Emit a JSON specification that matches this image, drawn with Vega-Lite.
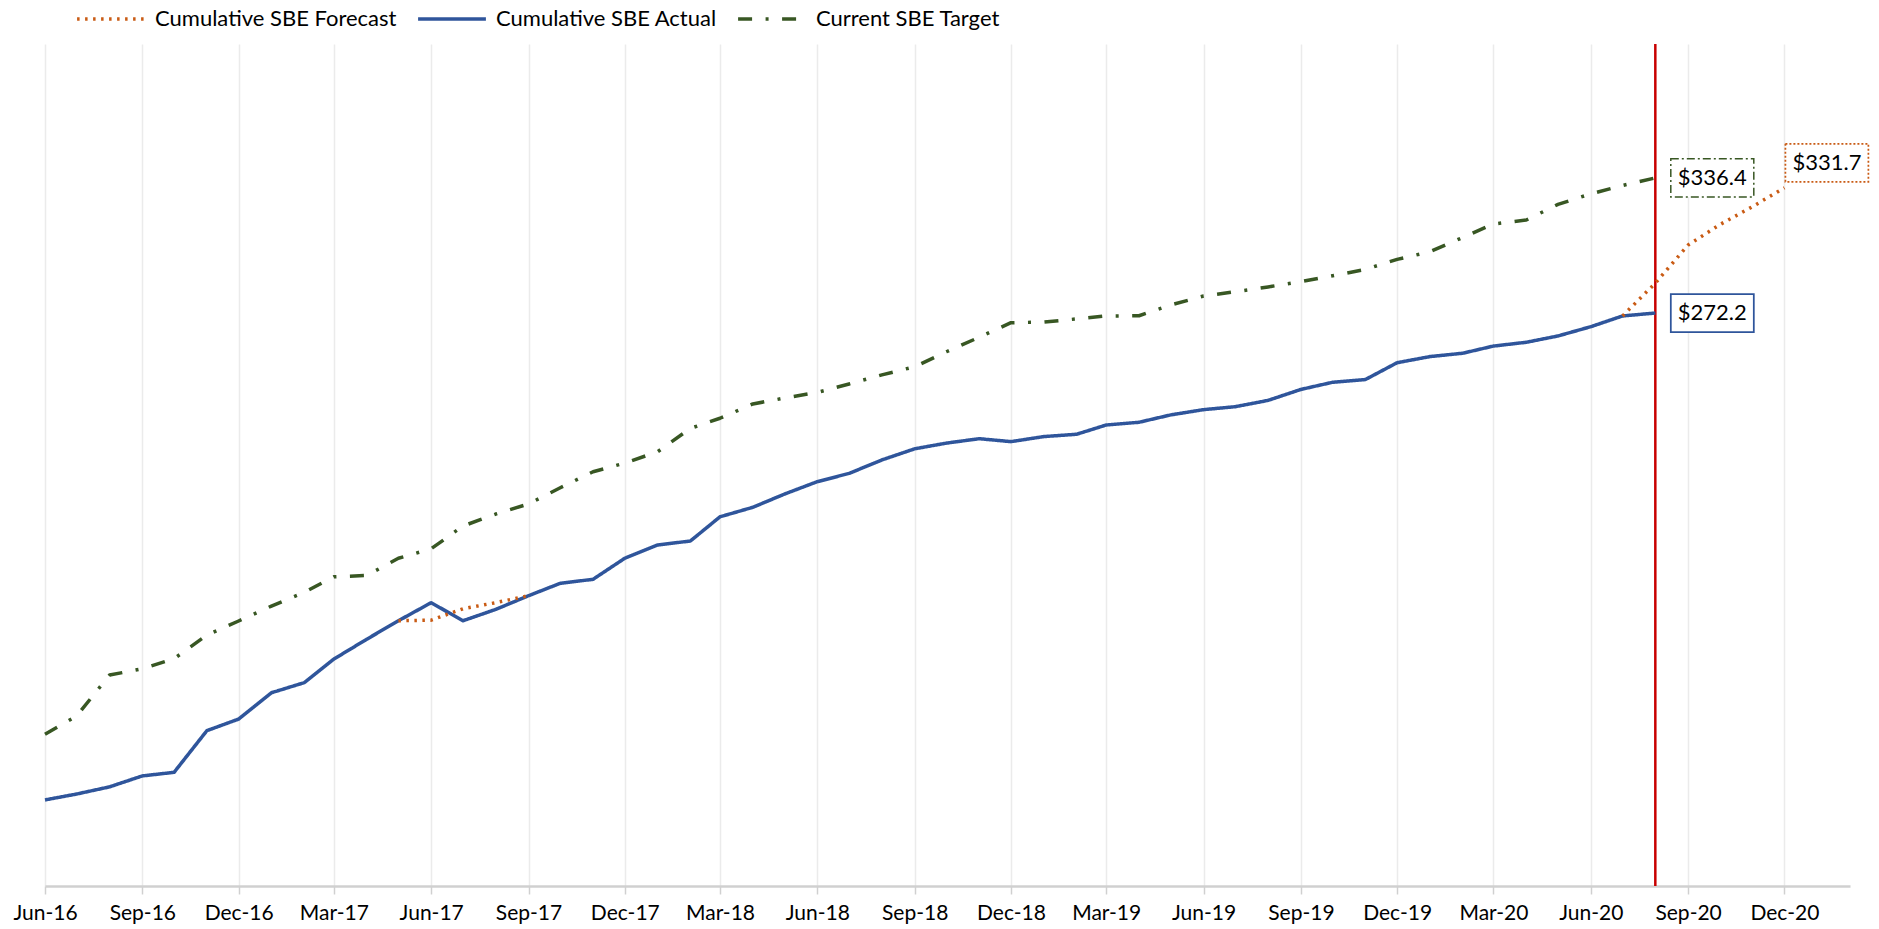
{
"$schema": "https://vega.github.io/schema/vega-lite/v6.json",
"width": 1805, "height": 842,
"autosize": {"type": "none"},
"padding": {"left": 45, "top": 44, "right": 29, "bottom": 43},
"background": "white",
"config": {"view": {"stroke": null}, "font": "Lato"},
"datasets": {
"now": [{"d": "2020-08-01"}],
"labels": [
{"d": "2020-08-01", "v": 336.4, "t": "$336.4", "k": "target"},
{"d": "2020-08-01", "v": 272.2, "t": "$272.2", "k": "actual"},
{"d": "2020-12-01", "v": 331.7, "t": "$331.7", "k": "forecast"}
],
"lines": [
{"d":"2016-06-01","s":"Cumulative SBE Actual","g":"a","v":40.9},
{"d":"2016-07-01","s":"Cumulative SBE Actual","g":"a","v":43.7},
{"d":"2016-08-01","s":"Cumulative SBE Actual","g":"a","v":47.1},
{"d":"2016-09-01","s":"Cumulative SBE Actual","g":"a","v":52.3},
{"d":"2016-10-01","s":"Cumulative SBE Actual","g":"a","v":54.0},
{"d":"2016-11-01","s":"Cumulative SBE Actual","g":"a","v":73.8},
{"d":"2016-12-01","s":"Cumulative SBE Actual","g":"a","v":79.3},
{"d":"2017-01-01","s":"Cumulative SBE Actual","g":"a","v":91.8},
{"d":"2017-02-01","s":"Cumulative SBE Actual","g":"a","v":96.6},
{"d":"2017-03-01","s":"Cumulative SBE Actual","g":"a","v":107.8},
{"d":"2017-04-01","s":"Cumulative SBE Actual","g":"a","v":117.2},
{"d":"2017-05-01","s":"Cumulative SBE Actual","g":"a","v":126.0},
{"d":"2017-06-01","s":"Cumulative SBE Actual","g":"a","v":134.6},
{"d":"2017-07-01","s":"Cumulative SBE Actual","g":"a","v":126.0},
{"d":"2017-08-01","s":"Cumulative SBE Actual","g":"a","v":131.4},
{"d":"2017-09-01","s":"Cumulative SBE Actual","g":"a","v":137.9},
{"d":"2017-10-01","s":"Cumulative SBE Actual","g":"a","v":143.8},
{"d":"2017-11-01","s":"Cumulative SBE Actual","g":"a","v":145.7},
{"d":"2017-12-01","s":"Cumulative SBE Actual","g":"a","v":155.7},
{"d":"2018-01-01","s":"Cumulative SBE Actual","g":"a","v":162.0},
{"d":"2018-02-01","s":"Cumulative SBE Actual","g":"a","v":163.9},
{"d":"2018-03-01","s":"Cumulative SBE Actual","g":"a","v":175.4},
{"d":"2018-04-01","s":"Cumulative SBE Actual","g":"a","v":179.9},
{"d":"2018-05-01","s":"Cumulative SBE Actual","g":"a","v":186.2},
{"d":"2018-06-01","s":"Cumulative SBE Actual","g":"a","v":192.1},
{"d":"2018-07-01","s":"Cumulative SBE Actual","g":"a","v":196.0},
{"d":"2018-08-01","s":"Cumulative SBE Actual","g":"a","v":202.4},
{"d":"2018-09-01","s":"Cumulative SBE Actual","g":"a","v":207.7},
{"d":"2018-10-01","s":"Cumulative SBE Actual","g":"a","v":210.4},
{"d":"2018-11-01","s":"Cumulative SBE Actual","g":"a","v":212.5},
{"d":"2018-12-01","s":"Cumulative SBE Actual","g":"a","v":211.1},
{"d":"2019-01-01","s":"Cumulative SBE Actual","g":"a","v":213.5},
{"d":"2019-02-01","s":"Cumulative SBE Actual","g":"a","v":214.6},
{"d":"2019-03-01","s":"Cumulative SBE Actual","g":"a","v":219.0},
{"d":"2019-04-01","s":"Cumulative SBE Actual","g":"a","v":220.3},
{"d":"2019-05-01","s":"Cumulative SBE Actual","g":"a","v":223.8},
{"d":"2019-06-01","s":"Cumulative SBE Actual","g":"a","v":226.3},
{"d":"2019-07-01","s":"Cumulative SBE Actual","g":"a","v":227.7},
{"d":"2019-08-01","s":"Cumulative SBE Actual","g":"a","v":230.7},
{"d":"2019-09-01","s":"Cumulative SBE Actual","g":"a","v":235.9},
{"d":"2019-10-01","s":"Cumulative SBE Actual","g":"a","v":239.3},
{"d":"2019-11-01","s":"Cumulative SBE Actual","g":"a","v":240.6},
{"d":"2019-12-01","s":"Cumulative SBE Actual","g":"a","v":248.6},
{"d":"2020-01-01","s":"Cumulative SBE Actual","g":"a","v":251.5},
{"d":"2020-02-01","s":"Cumulative SBE Actual","g":"a","v":253.1},
{"d":"2020-03-01","s":"Cumulative SBE Actual","g":"a","v":256.5},
{"d":"2020-04-01","s":"Cumulative SBE Actual","g":"a","v":258.3},
{"d":"2020-05-01","s":"Cumulative SBE Actual","g":"a","v":261.3},
{"d":"2020-06-01","s":"Cumulative SBE Actual","g":"a","v":265.7},
{"d":"2020-07-01","s":"Cumulative SBE Actual","g":"a","v":270.8},
{"d":"2020-08-01","s":"Cumulative SBE Actual","g":"a","v":272.2},
{"d":"2016-06-01","s":"Current SBE Target","g":"t","v":72.1},
{"d":"2016-07-01","s":"Current SBE Target","g":"t","v":80.8},
{"d":"2016-08-01","s":"Current SBE Target","g":"t","v":100.2},
{"d":"2016-09-01","s":"Current SBE Target","g":"t","v":103.2},
{"d":"2016-10-01","s":"Current SBE Target","g":"t","v":108.0},
{"d":"2016-11-01","s":"Current SBE Target","g":"t","v":119.2},
{"d":"2016-12-01","s":"Current SBE Target","g":"t","v":125.9},
{"d":"2017-01-01","s":"Current SBE Target","g":"t","v":133.0},
{"d":"2017-02-01","s":"Current SBE Target","g":"t","v":139.5},
{"d":"2017-03-01","s":"Current SBE Target","g":"t","v":146.9},
{"d":"2017-04-01","s":"Current SBE Target","g":"t","v":147.5},
{"d":"2017-05-01","s":"Current SBE Target","g":"t","v":155.7},
{"d":"2017-06-01","s":"Current SBE Target","g":"t","v":160.2},
{"d":"2017-07-01","s":"Current SBE Target","g":"t","v":171.0},
{"d":"2017-08-01","s":"Current SBE Target","g":"t","v":176.7},
{"d":"2017-09-01","s":"Current SBE Target","g":"t","v":181.5},
{"d":"2017-10-01","s":"Current SBE Target","g":"t","v":189.2},
{"d":"2017-11-01","s":"Current SBE Target","g":"t","v":196.8},
{"d":"2017-12-01","s":"Current SBE Target","g":"t","v":200.9},
{"d":"2018-01-01","s":"Current SBE Target","g":"t","v":206.3},
{"d":"2018-02-01","s":"Current SBE Target","g":"t","v":217.4},
{"d":"2018-03-01","s":"Current SBE Target","g":"t","v":222.2},
{"d":"2018-04-01","s":"Current SBE Target","g":"t","v":229.0},
{"d":"2018-05-01","s":"Current SBE Target","g":"t","v":231.8},
{"d":"2018-06-01","s":"Current SBE Target","g":"t","v":234.5},
{"d":"2018-07-01","s":"Current SBE Target","g":"t","v":238.5},
{"d":"2018-08-01","s":"Current SBE Target","g":"t","v":242.8},
{"d":"2018-09-01","s":"Current SBE Target","g":"t","v":246.7},
{"d":"2018-10-01","s":"Current SBE Target","g":"t","v":253.8},
{"d":"2018-11-01","s":"Current SBE Target","g":"t","v":260.7},
{"d":"2018-12-01","s":"Current SBE Target","g":"t","v":267.6},
{"d":"2019-01-01","s":"Current SBE Target","g":"t","v":267.9},
{"d":"2019-02-01","s":"Current SBE Target","g":"t","v":269.4},
{"d":"2019-03-01","s":"Current SBE Target","g":"t","v":270.8},
{"d":"2019-04-01","s":"Current SBE Target","g":"t","v":270.9},
{"d":"2019-05-01","s":"Current SBE Target","g":"t","v":276.0},
{"d":"2019-06-01","s":"Current SBE Target","g":"t","v":280.3},
{"d":"2019-07-01","s":"Current SBE Target","g":"t","v":282.3},
{"d":"2019-08-01","s":"Current SBE Target","g":"t","v":284.6},
{"d":"2019-09-01","s":"Current SBE Target","g":"t","v":287.1},
{"d":"2019-10-01","s":"Current SBE Target","g":"t","v":289.9},
{"d":"2019-11-01","s":"Current SBE Target","g":"t","v":292.9},
{"d":"2019-12-01","s":"Current SBE Target","g":"t","v":297.7},
{"d":"2020-01-01","s":"Current SBE Target","g":"t","v":301.3},
{"d":"2020-02-01","s":"Current SBE Target","g":"t","v":308.1},
{"d":"2020-03-01","s":"Current SBE Target","g":"t","v":314.5},
{"d":"2020-04-01","s":"Current SBE Target","g":"t","v":316.4},
{"d":"2020-05-01","s":"Current SBE Target","g":"t","v":323.8},
{"d":"2020-06-01","s":"Current SBE Target","g":"t","v":328.8},
{"d":"2020-07-01","s":"Current SBE Target","g":"t","v":332.8},
{"d":"2020-08-01","s":"Current SBE Target","g":"t","v":336.4},
{"d":"2017-05-01","s":"Cumulative SBE Forecast","g":"f1","v":126.0},
{"d":"2017-06-01","s":"Cumulative SBE Forecast","g":"f1","v":126.3},
{"d":"2017-07-01","s":"Cumulative SBE Forecast","g":"f1","v":131.7},
{"d":"2017-08-01","s":"Cumulative SBE Forecast","g":"f1","v":134.6},
{"d":"2017-09-01","s":"Cumulative SBE Forecast","g":"f1","v":137.9},
{"d":"2020-07-01","s":"Cumulative SBE Forecast","g":"f2","v":270.8},
{"d":"2020-08-01","s":"Cumulative SBE Forecast","g":"f2","v":286.4},
{"d":"2020-09-01","s":"Cumulative SBE Forecast","g":"f2","v":304.5},
{"d":"2020-10-01","s":"Cumulative SBE Forecast","g":"f2","v":314.2},
{"d":"2020-11-01","s":"Cumulative SBE Forecast","g":"f2","v":322.8},
{"d":"2020-12-01","s":"Cumulative SBE Forecast","g":"f2","v":331.7}
]
},
"layer": [
{"data": {"name": "now"},
 "mark": {"type": "rule", "color": "#C80000", "strokeWidth": 2.5},
 "encoding": {"x": {"field": "d", "type": "temporal"}}},
{"data": {"name": "lines"},
 "mark": {"type": "line", "strokeWidth": 3.5, "strokeJoin": "round"},
 "encoding": {
  "x": {"field": "d", "type": "temporal",
   "scale": {"type": "utc", "domain": [{"year": 2016, "month": 6, "date": 1, "utc": true}, {"year": 2021, "month": 2, "date": 1, "utc": true}]},
   "axis": {"title": null, "format": "%b-%y", "labelFlush": false, "labelOverlap": false,
    "values": [
     {"year": 2016, "month": 6, "date": 1, "utc": true}, {"year": 2016, "month": 9, "date": 1, "utc": true}, {"year": 2016, "month": 12, "date": 1, "utc": true},
     {"year": 2017, "month": 3, "date": 1, "utc": true}, {"year": 2017, "month": 6, "date": 1, "utc": true}, {"year": 2017, "month": 9, "date": 1, "utc": true}, {"year": 2017, "month": 12, "date": 1, "utc": true},
     {"year": 2018, "month": 3, "date": 1, "utc": true}, {"year": 2018, "month": 6, "date": 1, "utc": true}, {"year": 2018, "month": 9, "date": 1, "utc": true}, {"year": 2018, "month": 12, "date": 1, "utc": true},
     {"year": 2019, "month": 3, "date": 1, "utc": true}, {"year": 2019, "month": 6, "date": 1, "utc": true}, {"year": 2019, "month": 9, "date": 1, "utc": true}, {"year": 2019, "month": 12, "date": 1, "utc": true},
     {"year": 2020, "month": 3, "date": 1, "utc": true}, {"year": 2020, "month": 6, "date": 1, "utc": true}, {"year": 2020, "month": 9, "date": 1, "utc": true}, {"year": 2020, "month": 12, "date": 1, "utc": true}
    ],
    "grid": true, "gridColor": "#EBEBEB", "gridWidth": 1.5,
    "domainColor": "#D0D0D0", "domainWidth": 2.5,
    "ticks": true, "tickColor": "#D0D0D0", "tickWidth": 1.5, "tickSize": 8,
    "labelFontSize": 21, "labelColor": "#000000", "labelPadding": 8, "labelFont": "Lato"}},
  "y": {"field": "v", "type": "quantitative", "scale": {"domain": [0, 400]}, "axis": null},
  "color": {"field": "s", "type": "nominal",
   "scale": {"domain": ["Cumulative SBE Forecast", "Cumulative SBE Actual", "Current SBE Target"], "range": ["#C95B14", "#2F559B", "#385723"]},
   "legend": {"orient": "none", "legendX": 30, "legendY": -61, "direction": "horizontal", "title": null, "symbolType": "stroke", "symbolSize": 4600, "symbolStrokeWidth": 3.5, "labelFontSize": 22, "labelColor": "#000000", "labelFont": "Lato", "columnPadding": 14, "labelOffset": 8, "labelLimit": 400}},
  "strokeDash": {"field": "s", "type": "nominal",
   "scale": {"domain": ["Cumulative SBE Forecast", "Cumulative SBE Actual", "Current SBE Target"], "range": [[2.5, 5.5], [1, 0], [14, 13.5, 3, 13.5]]},
   "legend": {"orient": "none", "legendX": 30, "legendY": -61, "direction": "horizontal", "title": null, "symbolType": "stroke", "symbolSize": 4600, "symbolStrokeWidth": 3.5, "labelFontSize": 22, "labelColor": "#000000", "labelFont": "Lato", "columnPadding": 14, "labelOffset": 8, "labelLimit": 400}},
  "detail": {"field": "g", "type": "nominal"}
 }},
{"data": {"name": "labels"}, "transform": [{"filter": "datum.k == 'target'"}],
 "mark": {"type": "point", "shape": "M0.373,-0.458H2.373V0.458H0.373Z", "size": 6889, "filled": true, "fill": "#ffffff", "stroke": "#385723", "strokeWidth": 1.5, "strokeDash": [8, 3, 2, 3], "opacity": 1},
 "encoding": {"x": {"field": "d", "type": "temporal"}, "y": {"field": "v", "type": "quantitative"}}},
{"data": {"name": "labels"}, "transform": [{"filter": "datum.k == 'actual'"}],
 "mark": {"type": "point", "shape": "M0.373,-0.458H2.373V0.458H0.373Z", "size": 6889, "filled": true, "fill": "#ffffff", "stroke": "#2F559B", "strokeWidth": 1.75, "opacity": 1},
 "encoding": {"x": {"field": "d", "type": "temporal"}, "y": {"field": "v", "type": "quantitative"}}},
{"data": {"name": "labels"}, "transform": [{"filter": "datum.k == 'forecast'"}],
 "mark": {"type": "point", "shape": "M0.024,-1.060H2.024V-0.144H0.024Z", "size": 6889, "filled": true, "fill": "#ffffff", "stroke": "#C95B14", "strokeWidth": 1.75, "strokeDash": [2, 2], "opacity": 1},
 "encoding": {"x": {"field": "d", "type": "temporal"}, "y": {"field": "v", "type": "quantitative"}}},
{"data": {"name": "labels"}, "transform": [{"filter": "datum.k != 'forecast'"}],
 "mark": {"type": "text", "dx": 57, "dy": 0, "fontSize": 22, "font": "Lato", "color": "#000000", "align": "center", "baseline": "middle"},
 "encoding": {"x": {"field": "d", "type": "temporal"}, "y": {"field": "v", "type": "quantitative"}, "text": {"field": "t"}}},
{"data": {"name": "labels"}, "transform": [{"filter": "datum.k == 'forecast'"}],
 "mark": {"type": "text", "dx": 42.5, "dy": -25, "fontSize": 22, "font": "Lato", "color": "#000000", "align": "center", "baseline": "middle"},
 "encoding": {"x": {"field": "d", "type": "temporal"}, "y": {"field": "v", "type": "quantitative"}, "text": {"field": "t"}}}
]
}
